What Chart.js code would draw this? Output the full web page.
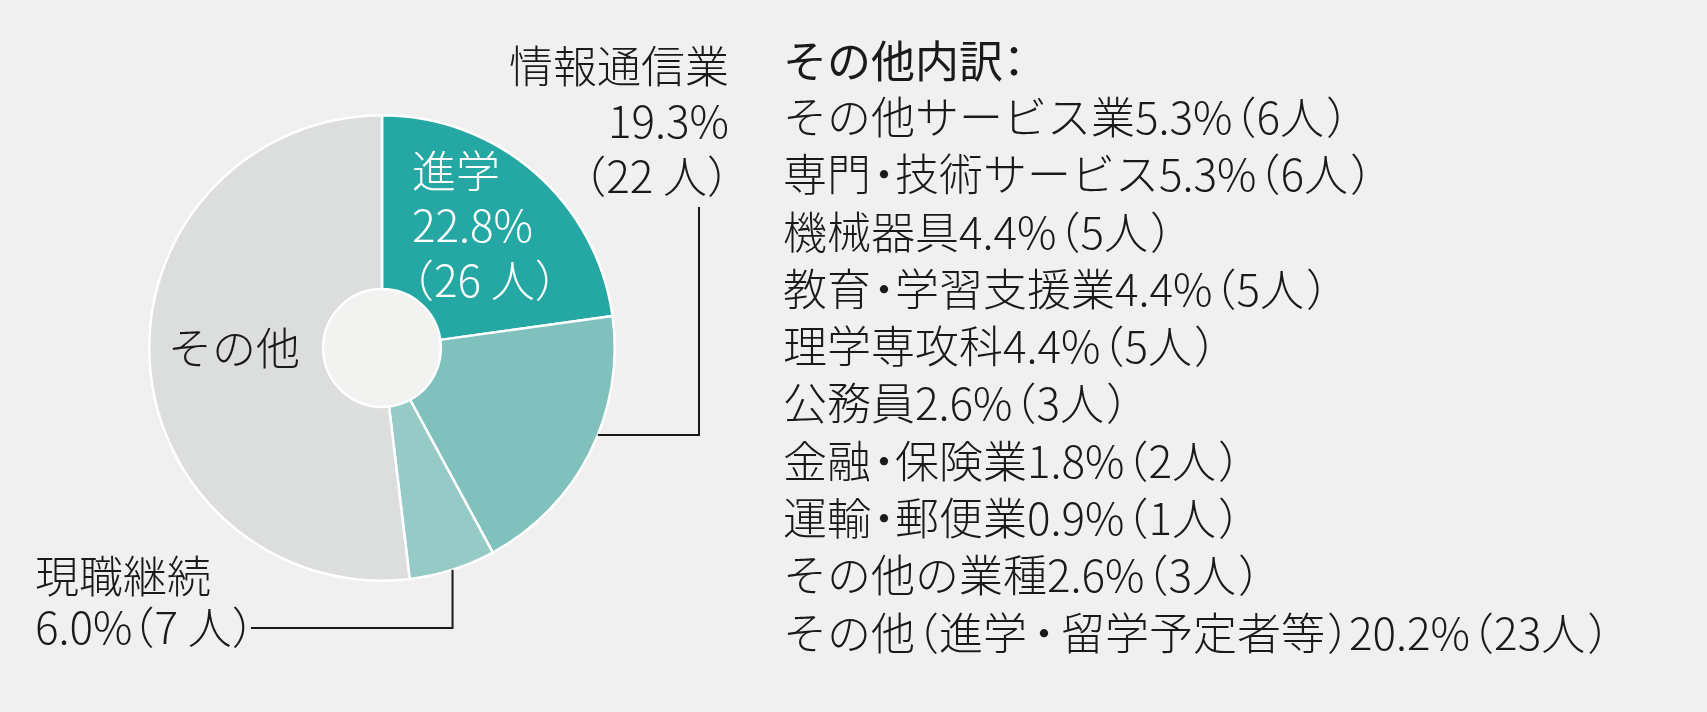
<!DOCTYPE html>
<html lang="ja">
<head>
<meta charset="utf-8">
<script src="https://cdn.jsdelivr.net/npm/chart.js@4.4.1/dist/chart.umd.min.js"></script>
<style>
  html, body { margin: 0; padding: 0; background: #f0f0f0; }
  body { width: 1707px; height: 712px; position: relative; overflow: hidden;
         font-family: "Noto Sans CJK JP Light", "Noto Sans CJK JP", "Noto Sans", sans-serif; color: #1a1a1a; }
  #wrap { position: absolute; left: 0; top: 0; width: 1707px; height: 712px; }
  .half { font-feature-settings: "halt"; }
  #breakdown { position: absolute; left: 783px; top: 31px; }
  #breakdown .title { font-family: "Noto Sans CJK JP", sans-serif; font-size: 44px; font-weight: 400; line-height: 56px; }
  #breakdown ul { list-style: none; margin: 0; padding: 0; }
  #breakdown li { font-size: 44px; font-weight: 300; line-height: 57.3px; white-space: nowrap; }
  #breakdown li .half { margin-left: 2px; }
  #breakdown li:last-child .dot { margin: 0 6px; }
  .plabel { position: absolute; font-size: 44px; font-weight: 300; line-height: 55px; white-space: nowrap; }
</style>
</head>
<body>
<div id="wrap"><canvas id="pie"></canvas></div>
<div id="labels"></div>
<div id="breakdown">
  <div class="title">その他内訳<span class="half">：</span></div>
  <ul id="other-list"></ul>
</div>
<script>
// main pie
const categories = ['進学', '情報通信業', '現職継続', 'その他'];
const percents = [22.8, 19.3, 6.0, 51.9];
const counts = [26, 22, 7, 59];
const colors = ['#25a8a4', '#80c1bd', '#96cac7', '#dcdedd'];

// その他 breakdown
const otherNames = ['その他サービス業', '専門・技術サービス', '機械器具', '教育・学習支援業', '理学専攻科',
  '公務員', '金融・保険業', '運輸・郵便業', 'その他の業種', 'その他（進学・留学予定者等）'];
const otherPercents = [5.3, 5.3, 4.4, 4.4, 4.4, 2.6, 1.8, 0.9, 2.6, 20.2];
const otherCounts = [6, 6, 5, 5, 5, 3, 2, 1, 3, 23];

function pct(v) {
  return v.toFixed(1) + '%';
}

// wrap full-width brackets and dots so they get half-width spacing
function tight(s) {
  return s.replace(/([（）：])/g, '<span class="half">$1</span>')
          .replace(/・/g, '<span class="half dot">・</span>');
}

// label layout, offsets from the pie centre (px); anchor = fraction through the slice
const labelLayout = [
  { idx: 0, color: '#ffffff', align: 'left', x: 30, y: [-176, -122, -67],
    lines: i => [categories[i], pct(percents[i]), '（' + counts[i] + ' 人）'] },
  { idx: 1, color: '#1a1a1a', align: 'right', x: 347, y: [-281, -226, -171],
    lines: i => [categories[i], pct(percents[i]), '（' + counts[i] + ' 人）'],
    leader: { at: 0.43, turnX: 317, endY: -141, dir: 'h' } },
  { idx: 2, color: '#1a1a1a', align: 'left', x: -347, y: [229, 280],
    lines: i => [categories[i], pct(percents[i]) + '（' + counts[i] + ' 人）'],
    leader: { at: 0.5, turnY: 280, endX: -131, dir: 'v' } },
  { idx: 3, color: '#1a1a1a', align: 'left', x: -214, y: [1],
    lines: i => [categories[i]] }
];

// fill the doughnut hole
const holePlugin = {
  id: 'hole',
  beforeDatasetsDraw(chart) {
    const arc = chart.getDatasetMeta(0).data[0];
    if (!arc) return;
    const ctx = chart.ctx;
    ctx.save();
    ctx.beginPath();
    ctx.arc(arc.x, arc.y, arc.innerRadius, 0, Math.PI * 2);
    ctx.fillStyle = '#f2f2f1';
    ctx.fill();
    ctx.restore();
  }
};

// leader lines on the canvas, label text as html placed from the arcs
const labelPlugin = {
  id: 'sliceLabels',
  afterDatasetsDraw(chart) {
    const arcs = chart.getDatasetMeta(0).data;
    const ctx = chart.ctx;
    const box = document.getElementById('labels');
    box.innerHTML = '';
    ctx.save();
    labelLayout.forEach(l => {
      const arc = arcs[l.idx];
      const cx = arc.x, cy = arc.y;
      if (l.leader) {
        const a = arc.startAngle + (arc.endAngle - arc.startAngle) * l.leader.at;
        const ax = cx + arc.outerRadius * Math.cos(a);
        const ay = cy + arc.outerRadius * Math.sin(a);
        ctx.beginPath();
        ctx.moveTo(ax, ay);
        if (l.leader.dir === 'h') {
          ctx.lineTo(cx + l.leader.turnX, ay);
          ctx.lineTo(cx + l.leader.turnX, cy + l.leader.endY);
        } else {
          ctx.lineTo(ax, cy + l.leader.turnY);
          ctx.lineTo(cx + l.leader.endX, cy + l.leader.turnY);
        }
        ctx.strokeStyle = '#1a1a1a';
        ctx.lineWidth = 2;
        ctx.stroke();
      }
      l.lines(l.idx).forEach((t, k) => {
        const d = document.createElement('div');
        d.className = 'plabel';
        d.style.color = l.color;
        d.style.top = (cy + l.y[k] - 27.5 - 2.5) + 'px';
        if (l.align === 'right') {
          d.style.right = (chart.width - (cx + l.x)) + 'px';
          d.style.textAlign = 'right';
        } else {
          d.style.left = (cx + l.x) + 'px';
        }
        d.innerHTML = tight(t);
        box.appendChild(d);
      });
    });
    ctx.restore();
  }
};

function buildList() {
  const list = document.getElementById('other-list');
  otherNames.forEach((name, i) => {
    const li = document.createElement('li');
    li.innerHTML = tight(name + pct(otherPercents[i]) + '（' + otherCounts[i] + '人）');
    list.appendChild(li);
  });
}

function makeChart() {
  buildList();
  new Chart(document.getElementById('pie'), {
    type: 'doughnut',
    data: {
      labels: categories,
      datasets: [{
        data: percents,
        backgroundColor: colors,
        borderColor: '#ffffff',
        borderWidth: 2.5,
        hoverOffset: 0
      }]
    },
    options: {
      responsive: true,
      maintainAspectRatio: false,
      animation: false,
      events: [],
      cutout: '25.3%',
      layout: { padding: { left: 0, right: 943, top: 114, bottom: 130 } },
      plugins: { legend: { display: false }, tooltip: { enabled: false } }
    },
    plugins: [holePlugin, labelPlugin]
  });
}

Promise.all([
  document.fonts.load('300 44px "Noto Sans CJK JP"', '進学人'),
  document.fonts.load('400 44px "Noto Sans CJK JP"', 'その他')
]).then(makeChart, makeChart);
</script>
</body>
</html>
